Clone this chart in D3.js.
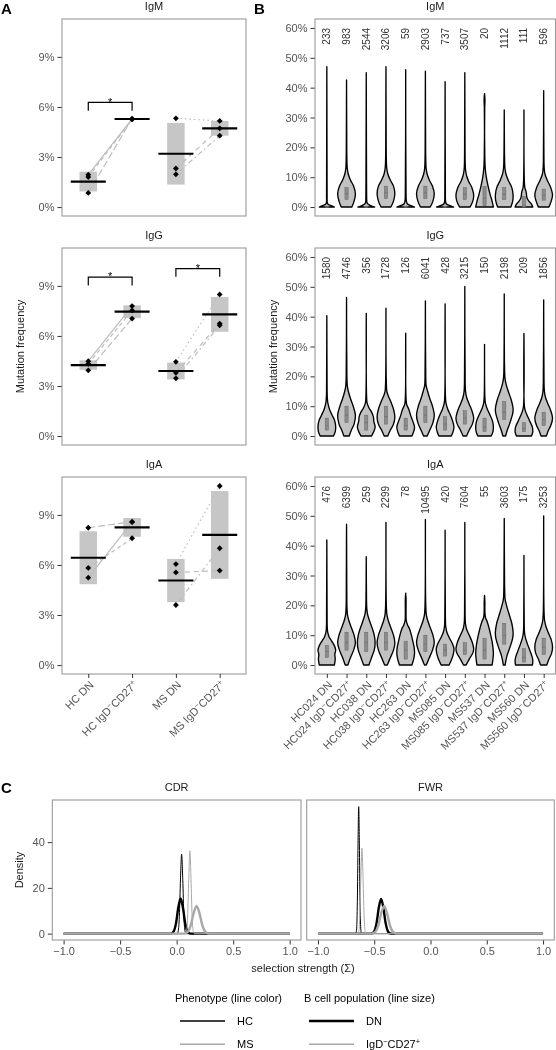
<!DOCTYPE html>
<html><head><meta charset="utf-8">
<script src="https://cdn.jsdelivr.net/npm/d3@7"></script>
<style>
body{margin:0;background:#fff;}
svg{will-change:transform;}
svg text{font-family:"Liberation Sans",Arial,Helvetica,sans-serif;}
</style></head><body>
<svg id="chart" width="556" height="1050"></svg>
<script>
// ================= DATA =================
// ---- Panel A: per-patient mean mutation frequency (%) ----
const isotypes = ["IgM", "IgG", "IgA"];
const groupsA = ["HC DN", "HC IgD-CD27+", "MS DN", "MS IgD-CD27+"];
const patients = ["HC024", "HC038", "HC263", "MS085", "MS537", "MS560"];
const patientCohort = ["HC", "HC", "HC", "MS", "MS", "MS"];
const igmDN = [1.94, 1.80, 0.85, 2.31, 5.32, 1.96];
const igmSW = [5.28, 5.25, 5.30, 4.72, 5.16, 4.28];
const iggDN = [4.49, 4.33, 3.94, 3.79, 4.45, 3.46];
const iggSW = [7.79, 7.53, 7.04, 6.74, 8.49, 6.64];
const igaDN = [5.24, 5.82, 8.23, 5.55, 6.05, 3.60];
const igaSW = [8.56, 7.60, 8.59, 5.66, 10.73, 7.00];
const sigIsotype = ["IgM", "IgG", "IgG"];
const sigFrom = ["HC DN", "HC DN", "MS DN"];
const sigTo = ["HC IgD-CD27+", "HC IgD-CD27+", "MS IgD-CD27+"];
const sigY = [6.27, 9.52, 10.04];
const sigLabel = ["*", "*", "*"];
const yTicksA = [0, 3, 6, 9];

// ---- Panel B: per-sample violins ----
const samples = ["HC024 DN", "HC024 IgD-CD27+", "HC038 DN", "HC038 IgD-CD27+", "HC263 DN", "HC263 IgD-CD27+",
  "MS085 DN", "MS085 IgD-CD27+", "MS537 DN", "MS537 IgD-CD27+", "MS560 DN", "MS560 IgD-CD27+"];
const countsIgM = [233, 983, 2544, 3206, 59, 2903, 737, 3507, 20, 1112, 111, 596];
const countsIgG = [1580, 4746, 356, 1728, 126, 6041, 428, 3215, 150, 2198, 209, 1856];
const countsIgA = [476, 6399, 259, 2299, 78, 10495, 420, 7604, 55, 3603, 175, 3253];
const maxIgM = [47, 42.6, 45, 47, 46, 45.5, 42, 45, 38, 32.5, 32.5, 39];
const maxIgG = [40.3, 46.4, 41.1, 42.8, 34.5, 45.3, 44.3, 50.1, 30.7, 47.6, 34.4, 45.6];
const maxIgA = [41.9, 47.2, 36.3, 47.8, 24.1, 48.8, 45.2, 47.8, 23.3, 49.1, 36.7, 50];
// quartiles [q1, median, q3] (%)
const boxIgM = [[0,0,0.3],[2.5,4.5,6.5],[0,0,0.3],[2.8,4.8,7],[0,0,0.3],[2.8,4.8,7],[0,0,0.3],[2.5,4.3,6.5],[0.5,3,6.9],[2.5,4.3,6.5],[0,0.5,3.5],[2.3,4,6]];
const boxIgG = [[2,3.5,6],[4.5,7,10],[2,4.5,7],[4,6.5,10],[2,3.5,6],[4.5,7,10],[2,4,6.5],[4,6,8.5],[1.5,3,6],[5.5,8,11.5],[1.5,2.5,4.5],[3.5,5.5,8]];
const boxIgA = [[2.5,4.5,6.5],[5,7.5,11],[4.5,7.5,11],[5,7.5,11],[2,5,8],[4.5,7,10],[3,5,7],[3.5,5,7.5],[2,5,9],[7,10,14],[1,2.5,5.5],[3.5,6,9]];
// violin outline: [mutation %, relative half-width]
const shapeIgM = [
  [[0,0.85],[0.4,0.55],[0.9,0.15],[1.5,0.05],[4,0.03],[15,0.02]],
  [[0,0.6],[2,0.85],[4.5,1],[7,0.8],[9,0.45],[11,0.2],[13,0.08],[16,0.04],[25,0.02]],
  [[0,0.95],[0.5,0.5],[1.2,0.12],[2,0.06],[5,0.04],[10,0.03]],
  [[0,0.55],[2,0.85],[4.5,1],[7,0.85],[9,0.5],[11,0.22],[13,0.09],[16,0.04],[25,0.02]],
  [[0,1],[0.4,0.65],[1,0.2],[2,0.08],[5,0.04]],
  [[0,0.55],[2,0.85],[4.5,1],[7,0.8],[9,0.45],[11,0.2],[13,0.08],[16,0.04],[25,0.02]],
  [[0,0.97],[0.4,0.6],[1,0.15],[2,0.05],[5,0.03]],
  [[0,0.6],[2,0.9],[4,1],[6.5,0.8],[8.5,0.45],[10.5,0.2],[12.5,0.08],[15,0.04],[25,0.02]],
  [[0,1],[2,0.85],[4,0.65],[7,0.4],[10,0.2],[13,0.08],[17,0.03],[33,0.02],[36,0.05]],
  [[0,0.75],[2,0.95],[4,1],[6.5,0.85],[9,0.45],[11,0.2],[13,0.08],[16,0.04]],
  [[0,1],[1,0.85],[2,0.55],[3,0.35],[5,0.25],[6.5,0.1],[9,0.04]],
  [[0,0.6],[2,0.85],[4,1],[6.5,0.8],[9,0.4],[11,0.15],[13,0.06],[16,0.03]]
];
const shapeIgG = [
  [[0,0.75],[1.5,0.95],[3,1],[5,0.9],[7,0.6],[9,0.3],[11,0.12],[13,0.05],[16,0.03]],
  [[0,0.3],[2,0.55],[4,0.85],[7,1],[10,0.75],[12.5,0.45],[15,0.2],[17,0.08],[20,0.04]],
  [[0,0.6],[1.5,0.85],[3,1],[5,0.85],[6.5,0.8],[8,0.6],[9.5,0.3],[11,0.1],[13,0.04]],
  [[0,0.2],[2,0.5],[4,0.85],[6.5,1],[9,0.85],[11.5,0.55],[13.5,0.25],[15,0.1],[18,0.04]],
  [[0,0.7],[1.5,0.9],[3,1],[5,0.8],[7,0.55],[9,0.35],[10.5,0.12],[12,0.05]],
  [[0,0.2],[2,0.5],[4.5,0.85],[7,1],[10,0.8],[12.5,0.5],[15,0.25],[17,0.08],[20,0.04]],
  [[0,0.7],[1.5,0.9],[3,1],[5,0.85],[7,0.6],[9,0.3],[11,0.1],[13,0.04]],
  [[0,0.2],[2,0.5],[4,0.85],[6,1],[8.5,0.8],[11,0.45],[13,0.2],[15,0.08],[18,0.04]],
  [[0,0.75],[1.5,0.95],[3,1],[5,0.9],[7.5,0.55],[9.5,0.25],[11,0.1],[13,0.04]],
  [[0,0.15],[2,0.35],[4.5,0.65],[7.5,0.95],[9,1],[12,0.8],[15,0.45],[17.5,0.2],[19.5,0.08],[22,0.04]],
  [[0,0.85],[1.5,1],[3,0.95],[5,0.65],[7,0.35],[8.5,0.15],[10,0.05]],
  [[0,0.3],[2,0.55],[3.5,0.8],[6,1],[8.5,0.8],[11,0.45],[13,0.2],[15,0.08],[18,0.04]]
];
const shapeIgA = [
  [[0,0.85],[2,0.95],[3.5,0.9],[5,1],[6.5,0.85],[8,0.55],[9.5,0.25],[11,0.1],[13,0.04],[16,0.03]],
  [[0,0.15],[2.5,0.45],[5,0.8],[7.5,1],[10,0.85],[12.5,0.55],[15,0.25],[17,0.1],[20,0.04],[24,0.03]],
  [[0,0.3],[2.5,0.6],[5,0.9],[7.5,1],[10,0.9],[12.5,0.65],[15,0.35],[17,0.15],[19,0.06],[22,0.03]],
  [[0,0.15],[2.5,0.5],[5,0.85],[7.5,1],[10,0.85],[12.5,0.55],[15,0.25],[17,0.1],[20,0.04]],
  [[0,0.7],[2,0.9],[4,1],[6,0.95],[8,0.8],[10,0.65],[12,0.45],[13.5,0.2],[15,0.06],[18,0.04],[22,0.04]],
  [[0,0.1],[2.5,0.45],[5,0.8],[7.5,1],[10,0.85],[12.5,0.55],[15,0.25],[17,0.1],[20,0.04]],
  [[0,0.45],[2,0.75],[4,0.95],[5.5,1],[7,0.85],[9,0.5],[11,0.2],[13,0.07],[16,0.03]],
  [[0,0.15],[2,0.5],[4,0.9],[5.5,1],[7.5,0.85],[10,0.5],[12,0.2],[14,0.07],[17,0.03]],
  [[0,0.85],[2,0.95],[4,1],[7,0.9],[10,0.7],[12.5,0.5],[14.5,0.3],[16,0.1],[18,0.04],[21,0.04]],
  [[0,0.1],[3,0.3],[6,0.65],[9,0.95],[11,1],[14,0.85],[17,0.55],[19.5,0.3],[22,0.1],[25,0.05],[30,0.03]],
  [[0,0.95],[1.5,1],[3,0.9],[5,0.65],[7,0.4],[9,0.18],[11,0.06],[13,0.03]],
  [[0,0.35],[2,0.6],[4,0.9],[6,1],[8.5,0.85],[11,0.5],[13,0.25],[15,0.1],[18,0.04]]
];
const yTicksB = [0, 10, 20, 30, 40, 50, 60];

// ---- Panel C: selection strength densities ----
const regions = ["CDR", "FWR"];
const cohorts = ["HC", "MS"];
const populations = ["DN", "IgD-CD27+"];
const cdrHCDN = [[-1,0],[-0.05,0],[-0.025,1.1],[-0.005,4.7],[0.015,11.5],[0.035,15.4],[0.055,11.5],[0.075,4.7],[0.095,1.1],[0.115,0.1],[0.13,0],[1,0]];
const cdrHCSW = [[-1,0],[0.004,0],[0.014,1.2],[0.024,7.6],[0.034,23.8],[0.044,34.7],[0.054,23.8],[0.064,7.6],[0.074,1.2],[0.084,0],[1,0]];
const cdrMSDN = [[-1,0],[0.066,0],[0.076,0.1],[0.101,0.9],[0.126,3.8],[0.151,9.1],[0.176,12.1],[0.201,9.1],[0.226,3.8],[0.251,0.9],[0.276,0.1],[0.29,0],[1,0]];
const cdrMSSW = [[-1,0],[0.077,0],[0.087,1.0],[0.097,7.2],[0.107,23.8],[0.117,36.2],[0.127,23.8],[0.137,7.2],[0.147,1.0],[0.157,0],[1,0]];
const fwrHCDN = [[-1,0],[-0.54,0],[-0.519,0.1],[-0.499,1.1],[-0.479,4.7],[-0.459,11.4],[-0.439,15.2],[-0.419,11.4],[-0.399,4.7],[-0.379,1.1],[-0.359,0.1],[-0.34,0],[1,0]];
const fwrHCSW = [[-1,0],[-0.668,0],[-0.662,0.2],[-0.656,2.4],[-0.650,13.9],[-0.644,39.2],[-0.638,55.5],[-0.632,39.2],[-0.626,13.9],[-0.620,2.4],[-0.614,0.2],[-0.608,0],[1,0]];
const fwrMSDN = [[-1,0],[-0.522,0],[-0.512,0.1],[-0.487,0.9],[-0.462,3.8],[-0.437,9.1],[-0.412,12.1],[-0.387,9.1],[-0.362,3.8],[-0.337,0.9],[-0.312,0.1],[-0.30,0],[1,0]];
const fwrMSSW = [[-1,0],[-0.649,0],[-0.639,0.7],[-0.629,6.5],[-0.619,24.1],[-0.609,37.3],[-0.599,24.1],[-0.589,6.5],[-0.579,0.7],[-0.569,0],[1,0]];
const xTicksC = [-1, -0.5, 0, 0.5, 1];
const yTicksC = [0, 20, 40];

// ================= STYLES =================
const dashByPatient = {HC024: null, HC038: "4,3", HC263: "7,3", MS085: "5,4", MS537: "1.5,3", MS560: "1.5,3,5,3"};
const colorByCohort = {HC: "#000000", MS: "#a8a8a8"};
const widthByPop = {"DN": 2.4, "IgD-CD27+": 1};
const tickColor = "#555";
const borderColor = "#9a9a9a";

// ================= DRAW =================
const svg = d3.select("#chart");

function addRich(textSel, str, supSize) {
  str.split(/([+-])/).forEach(p => {
    if (p === "") return;
    if (p === "-" || p === "+") {
      textSel.append("tspan").attr("font-size", supSize).attr("baseline-shift", "super")
        .text(p === "-" ? "\u2212" : "+");
    } else textSel.append("tspan").text(p);
  });
}
function styleAxis(g) {
  g.select(".domain").remove();
  g.selectAll(".tick line").attr("stroke", "#333").attr("stroke-width", 1);
  g.selectAll(".tick text").attr("fill", tickColor).attr("font-size", 11);
}

const rowTop = [19, 248, 477], rowH = 197;
const dnBy = {IgM: igmDN, IgG: iggDN, IgA: igaDN};
const swBy = {IgM: igmSW, IgG: iggSW, IgA: igaSW};

// panel letters
svg.append("text").attr("x", 1).attr("y", 13.5).attr("font-size", 15).attr("font-weight", "bold").text("A");
svg.append("text").attr("x", 254).attr("y", 13.5).attr("font-size", 15).attr("font-weight", "bold").text("B");
svg.append("text").attr("x", 1).attr("y", 793).attr("font-size", 15).attr("font-weight", "bold").text("C");

// ---------- Panel A ----------
const xA = d3.scalePoint().domain(groupsA).range([62, 246]).padding(0.6);
const stepA = xA.step();
const diamond = r => `M0,${-r}L${r},0L0,${r}L${-r},0Z`;

isotypes.forEach((iso, i) => {
  const top = rowTop[i], bot = top + rowH;
  const yA = d3.scaleLinear().domain([-0.535, 11.27]).range([bot, top]);
  const g = svg.append("g");
  g.append("text").attr("x", (62 + 246) / 2).attr("y", top - 9).attr("text-anchor", "middle")
    .attr("font-size", 11).attr("fill", "#1a1a1a").text(iso);

  const groupVals = groupsA.map(gn => {
    const coh = gn.slice(0, 2);
    const arr = gn.endsWith("DN") ? dnBy[iso] : swBy[iso];
    return patients.map((p, k) => ({p, coh: patientCohort[k], v: arr[k]})).filter(d => d.coh === coh);
  });
  groupsA.forEach((gn, j) => {
    const vals = groupVals[j].map(d => d.v);
    const m = d3.mean(vals), sd = d3.deviation(vals);
    g.append("rect").attr("x", xA(gn) - 0.2 * stepA).attr("width", 0.4 * stepA)
      .attr("y", yA(m + sd)).attr("height", yA(m - sd) - yA(m + sd)).attr("fill", "#c6c6c6");
  });
  patients.forEach((p, k) => {
    const coh = patientCohort[k];
    g.append("line").attr("x1", xA(coh + " DN")).attr("y1", yA(dnBy[iso][k]))
      .attr("x2", xA(coh + " IgD-CD27+")).attr("y2", yA(swBy[iso][k]))
      .attr("stroke", "#bdbdbd").attr("stroke-width", 1.2)
      .attr("stroke-dasharray", dashByPatient[p]);
  });
  groupsA.forEach((gn, j) => {
    const m = d3.mean(groupVals[j], d => d.v);
    g.append("line").attr("x1", xA(gn) - 0.4 * stepA).attr("x2", xA(gn) + 0.4 * stepA)
      .attr("y1", yA(m)).attr("y2", yA(m)).attr("stroke", "#000").attr("stroke-width", 2.2);
  });
  groupsA.forEach((gn, j) => {
    g.selectAll(null).data(groupVals[j]).join("path")
      .attr("d", diamond(2.9))
      .attr("transform", d => `translate(${xA(gn)},${yA(d.v)})`).attr("fill", "#000");
  });
  sigIsotype.forEach((s, k) => {
    if (s !== iso) return;
    const x1 = xA(sigFrom[k]), x2 = xA(sigTo[k]);
    g.append("path").attr("d", `M${x1},${yA(sigY[k] - 0.5)}V${yA(sigY[k])}H${x2}V${yA(sigY[k] - 0.5)}`)
      .attr("fill", "none").attr("stroke", "#000").attr("stroke-width", 1.2);
    g.append("text").attr("x", (x1 + x2) / 2).attr("y", yA(sigY[k]) + 3.2).attr("text-anchor", "middle")
      .attr("font-size", 11).attr("fill", "#000").text(sigLabel[k]);
  });
  const ax = g.append("g").attr("transform", "translate(62,0)")
    .call(d3.axisLeft(yA).tickValues(yTicksA).tickFormat(d => d + "%").tickSize(4.5).tickPadding(3));
  styleAxis(ax);
  g.append("rect").attr("x", 62).attr("y", top).attr("width", 184).attr("height", rowH)
    .attr("fill", "none").attr("stroke", borderColor).attr("stroke-width", 1.1);
  if (i === 2) {
    const bx = g.append("g").attr("transform", `translate(0,${bot})`)
      .call(d3.axisBottom(xA).tickSize(4).tickFormat(""));
    styleAxis(bx);
    bx.selectAll(".tick text").remove();
    bx.selectAll(".tick").append("text").attr("transform", "translate(0,6) rotate(-45)")
      .attr("text-anchor", "end").attr("dy", "0.71em").attr("font-size", 11).attr("fill", tickColor)
      .each(function (d) { addRich(d3.select(this), d, 7.5); });
  }
});
svg.append("text").attr("transform", `translate(24,${rowTop[1] + rowH / 2}) rotate(-90)`)
  .attr("text-anchor", "middle").attr("font-size", 11).attr("fill", "#1a1a1a").text("Mutation frequency");

// ---------- Panel B ----------
const xB = d3.scalePoint().domain(samples).range([315, 555.5]).padding(0.6);
const wB = d3.scaleLinear().domain([0, 1]).range([0, 0.45 * xB.step()]);
const countsBy = {IgM: countsIgM, IgG: countsIgG, IgA: countsIgA};
const maxBy = {IgM: maxIgM, IgG: maxIgG, IgA: maxIgA};
const boxBy = {IgM: boxIgM, IgG: boxIgG, IgA: boxIgA};
const shapeBy = {IgM: shapeIgM, IgG: shapeIgG, IgA: shapeIgA};

isotypes.forEach((iso, i) => {
  const top = rowTop[i], bot = top + rowH;
  const yB = d3.scaleLinear().domain([-3, 63]).range([bot, top]);
  const g = svg.append("g");
  g.append("text").attr("x", (315 + 555.5) / 2).attr("y", top - 9).attr("text-anchor", "middle")
    .attr("font-size", 11).attr("fill", "#1a1a1a").text(iso);
  samples.forEach((s, k) => {
    const cx = xB(s);
    const prof = shapeBy[iso][k].concat([[maxBy[iso][k], 0]]);
    const area = d3.area().y(d => yB(d[0])).x0(d => cx - wB(d[1])).x1(d => cx + wB(d[1]))
      .curve(d3.curveCatmullRom.alpha(0.5));
    g.append("path").attr("d", area(prof)).attr("fill", "#c2c2c2")
      .attr("stroke", "#000").attr("stroke-width", 1.35).attr("stroke-linejoin", "round");
    const [q1, med, q3] = boxBy[iso][k];
    g.append("rect").attr("x", cx - 1.6).attr("width", 3.2).attr("y", yB(q3))
      .attr("height", Math.max(1, yB(q1) - yB(q3))).attr("fill", "#8c8c8c")
      .attr("stroke", "#666").attr("stroke-width", 0.5);
    g.append("line").attr("x1", cx - 1.6).attr("x2", cx + 1.6).attr("y1", yB(med)).attr("y2", yB(med))
      .attr("stroke", "#666").attr("stroke-width", 0.6);
    g.append("text").attr("transform", `translate(${cx},${yB(60)}) rotate(-90)`)
      .attr("text-anchor", "end").attr("dy", "0.35em").attr("font-size", 10).attr("fill", "#333")
      .text(countsBy[iso][k]);
  });
  const ax = g.append("g").attr("transform", "translate(315,0)")
    .call(d3.axisLeft(yB).tickValues(yTicksB).tickFormat(d => d + "%").tickSize(4.5).tickPadding(3));
  styleAxis(ax);
  g.append("rect").attr("x", 315).attr("y", top).attr("width", 240.5).attr("height", rowH)
    .attr("fill", "none").attr("stroke", borderColor).attr("stroke-width", 1.1);
  if (i === 2) {
    const bx = g.append("g").attr("transform", `translate(0,${bot})`)
      .call(d3.axisBottom(xB).tickSize(4).tickFormat(""));
    styleAxis(bx);
    bx.selectAll(".tick text").remove();
    bx.selectAll(".tick").append("text").attr("transform", "translate(0,6) rotate(-45)")
      .attr("text-anchor", "end").attr("dy", "0.71em").attr("font-size", 11).attr("fill", tickColor)
      .each(function (d) { addRich(d3.select(this), d, 7.5); });
  }
});
svg.append("text").attr("transform", `translate(277,${rowTop[1] + rowH / 2}) rotate(-90)`)
  .attr("text-anchor", "middle").attr("font-size", 11).attr("fill", "#1a1a1a").text("Mutation frequency");

// ---------- Panel C ----------
const cRange = {CDR: [52.3, 301], FWR: [306.7, 554.3]};
const curvesBy = {
  CDR: [[cdrHCDN, "HC", "DN"], [cdrHCSW, "HC", "IgD-CD27+"], [cdrMSDN, "MS", "DN"], [cdrMSSW, "MS", "IgD-CD27+"]],
  FWR: [[fwrHCDN, "HC", "DN"], [fwrHCSW, "HC", "IgD-CD27+"], [fwrMSDN, "MS", "DN"], [fwrMSSW, "MS", "IgD-CD27+"]]
};
const yC = d3.scaleLinear().domain([-2.78, 58.4]).range([940, 800]);
regions.forEach((reg, ri) => {
  const [x0, x1] = cRange[reg];
  const xC = d3.scaleLinear().domain([-1.1, 1.1]).range([x0, x1]);
  const g = svg.append("g");
  g.append("text").attr("x", (x0 + x1) / 2).attr("y", 791).attr("text-anchor", "middle")
    .attr("font-size", 11).attr("fill", "#1a1a1a").text(reg);
  const line = d3.line().x(d => xC(d[0])).y(d => yC(d[1])).curve(d3.curveMonotoneX);
  curvesBy[reg].forEach(([data, coh, pop]) => {
    g.append("path").attr("d", line(data)).attr("fill", "none")
      .attr("stroke", colorByCohort[coh]).attr("stroke-width", widthByPop[pop]).attr("stroke-linejoin", "round");
  });
  const bx = g.append("g").attr("transform", "translate(0,940)")
    .call(d3.axisBottom(xC).tickValues(xTicksC).tickFormat(d3.format(".1f")).tickSize(4.5).tickPadding(3));
  styleAxis(bx);
  if (ri === 0) {
    const ax = g.append("g").attr("transform", `translate(${x0},0)`)
      .call(d3.axisLeft(yC).tickValues(yTicksC).tickSize(4.5).tickPadding(3));
    styleAxis(ax);
  }
  g.append("rect").attr("x", x0).attr("y", 800).attr("width", x1 - x0).attr("height", 140)
    .attr("fill", "none").attr("stroke", borderColor).attr("stroke-width", 1.1);
});
svg.append("text").attr("x", 303).attr("y", 972).attr("text-anchor", "middle").attr("font-size", 11)
  .attr("fill", "#1a1a1a").text("selection strength (\u03A3)");
svg.append("text").attr("transform", "translate(23,870) rotate(-90)").attr("text-anchor", "middle")
  .attr("font-size", 11).attr("fill", "#1a1a1a").text("Density");

// legends
const leg1 = svg.append("g");
leg1.append("text").attr("x", 175).attr("y", 1002).attr("font-size", 11).text("Phenotype (line color)");
cohorts.forEach((c, k) => {
  const y = 1021 + k * 23.3;
  leg1.append("line").attr("x1", 180).attr("x2", 225).attr("y1", y).attr("y2", y)
    .attr("stroke", colorByCohort[c]).attr("stroke-width", 1.6);
  leg1.append("text").attr("x", 237).attr("y", y + 4).attr("font-size", 11).text(c);
});
const leg2 = svg.append("g");
leg2.append("text").attr("x", 304).attr("y", 1002).attr("font-size", 11).text("B cell population (line size)");
populations.forEach((p, k) => {
  const y = 1021 + k * 23.3;
  leg2.append("line").attr("x1", 309).attr("x2", 354).attr("y1", y).attr("y2", y)
    .attr("stroke", k === 0 ? "#000" : "#a8a8a8").attr("stroke-width", k === 0 ? 2.6 : 1.4);
  const t = leg2.append("text").attr("x", 366).attr("y", y + 4).attr("font-size", 11);
  addRich(t, p, 7.5);
});
</script>
</body></html>
